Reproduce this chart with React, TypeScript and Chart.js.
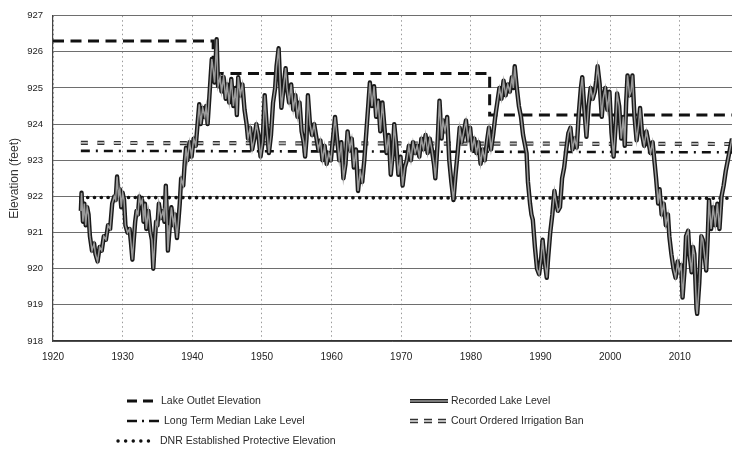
import { useEffect, useRef } from "react";
import { Chart, registerables } from "chart.js";

Chart.register(...registerables);

// ---------- axis ----------
const xMin = 1920;
const xMax = 2017.5;
const xStep = 10;
const yMin = 918;
const yMax = 927;
const yStep = 1;
const yTitle = "Elevation (feet)";

// ---------- reference lines ----------
const outletYears = [1920, 1943, 1943, 1982.7, 1982.7, 2017.5];
const outletLevels = [926.3, 926.3, 925.4, 925.4, 924.25, 924.25];

const banYears = [1924, 2017.5];
const banLevels = [923.48, 923.45];

const medianYears = [1924, 2017.5];
const medianLevels = [923.26, 923.22];

const dnrYears = [1924, 2017.5];
const dnrLevels = [921.97, 921.95];

// ---------- recorded lake level ----------
const recordedYears = [
  1924.0, 1924.1, 1924.3, 1924.5, 1924.7, 1924.9, 1925.1, 1925.3, 1925.6, 1925.9,
  1926.1, 1926.4, 1926.7, 1927.0, 1927.3, 1927.6, 1927.9, 1928.2, 1928.5, 1928.8,
  1929.0, 1929.2, 1929.4, 1929.6, 1929.8, 1930.0, 1930.2, 1930.4, 1930.7, 1931.0,
  1931.2, 1931.4, 1931.6, 1931.8, 1932.0, 1932.2, 1932.4, 1932.6, 1932.8, 1933.0,
  1933.2, 1933.4, 1933.7, 1934.0, 1934.2, 1934.4, 1934.6, 1934.8, 1935.0, 1935.2,
  1935.5, 1935.8, 1936.0, 1936.2, 1936.4, 1936.5, 1936.7, 1937.0, 1937.3, 1937.5,
  1937.8, 1938.0, 1938.2, 1938.4, 1938.7, 1938.9, 1939.1, 1939.3, 1939.6, 1939.9,
  1940.2, 1940.5, 1940.8, 1941.0, 1941.2, 1941.5, 1941.8, 1942.0, 1942.2, 1942.5,
  1942.8, 1943.0, 1943.2, 1943.5, 1943.7, 1944.0, 1944.2, 1944.5, 1944.8, 1945.0,
  1945.3, 1945.6, 1945.9, 1946.2, 1946.4, 1946.6, 1946.9, 1947.2, 1947.5, 1947.8,
  1948.0, 1948.3, 1948.6, 1948.9, 1949.2, 1949.5, 1949.8, 1950.1, 1950.4, 1950.7,
  1951.0, 1951.3, 1951.6, 1951.9, 1952.1, 1952.4, 1952.6, 1952.8, 1953.1, 1953.4,
  1953.6, 1953.9, 1954.2, 1954.5, 1954.8, 1955.1, 1955.4, 1955.7, 1956.0, 1956.2,
  1956.4, 1956.6, 1956.9, 1957.2, 1957.5, 1957.8, 1958.1, 1958.4, 1958.7, 1959.0,
  1959.3, 1959.6, 1959.9, 1960.2, 1960.5, 1960.8, 1961.1, 1961.4, 1961.7, 1962.0,
  1962.3, 1962.6, 1962.9, 1963.2, 1963.5, 1963.8, 1964.1, 1964.4, 1964.7, 1965.0,
  1965.3, 1965.5, 1965.8, 1966.1, 1966.4, 1966.7, 1967.0, 1967.3, 1967.6, 1967.9,
  1968.2, 1968.5, 1968.8, 1969.0, 1969.3, 1969.6, 1969.9, 1970.2, 1970.5, 1970.8,
  1971.1, 1971.4, 1971.7, 1972.0, 1972.3, 1972.6, 1972.9, 1973.2, 1973.5, 1973.8,
  1974.1, 1974.4, 1974.7, 1974.9, 1975.2, 1975.5, 1975.8, 1976.0, 1976.3, 1976.6,
  1976.9, 1977.2, 1977.5, 1977.8, 1978.1, 1978.4, 1978.7, 1979.0, 1979.3, 1979.6,
  1979.9, 1980.2, 1980.5, 1980.8, 1981.1, 1981.4, 1981.7, 1982.0, 1982.3, 1982.6,
  1982.9, 1983.2, 1983.5, 1983.8, 1984.1, 1984.4, 1984.7, 1985.0, 1985.3, 1985.6,
  1985.9, 1986.1, 1986.3, 1986.6, 1986.9, 1987.2, 1987.5, 1987.8, 1988.0, 1988.2,
  1988.5, 1988.7, 1988.9, 1989.2, 1989.5, 1989.8, 1990.1, 1990.3, 1990.6, 1990.9,
  1991.1, 1991.4, 1991.7, 1992.0, 1992.2, 1992.5, 1992.8, 1993.1, 1993.4, 1993.7,
  1994.0, 1994.3, 1994.6, 1994.9, 1995.2, 1995.5, 1995.8, 1996.0, 1996.3, 1996.6,
  1996.9, 1997.2, 1997.5, 1997.8, 1998.0, 1998.2, 1998.5, 1998.8, 1999.0, 1999.3,
  1999.6, 1999.9, 2000.2, 2000.5, 2000.8, 2001.0, 2001.3, 2001.6, 2001.9, 2002.1,
  2002.3, 2002.5, 2002.8, 2003.0, 2003.2, 2003.5, 2003.8, 2004.1, 2004.3, 2004.6,
  2004.9, 2005.2, 2005.5, 2005.8, 2006.1, 2006.4, 2006.6, 2006.9, 2007.1, 2007.4,
  2007.7, 2008.0, 2008.3, 2008.5, 2008.8, 2009.1, 2009.4, 2009.7, 2009.9, 2010.2,
  2010.4, 2010.7, 2010.9, 2011.2, 2011.4, 2011.7, 2011.9, 2012.1, 2012.4, 2012.5,
  2012.8, 2013.1, 2013.3, 2013.6, 2013.8, 2014.0, 2014.2, 2014.5, 2014.8, 2015.1,
  2015.4, 2015.7, 2016.0, 2016.3, 2016.6, 2016.9, 2017.2, 2017.5,
];
const recordedLevels = [
  921.6, 922.1, 921.3, 921.8, 921.2, 921.7, 921.5, 920.9, 920.5, 920.7,
  920.4, 920.2, 920.6, 920.5, 920.9, 920.8, 921.2, 921.1, 921.8, 922.0,
  921.9, 922.55, 922.0, 922.2, 921.7, 922.1, 921.9, 921.2, 921.0, 921.1,
  920.7, 920.25, 920.8, 921.3, 921.6, 921.5, 922.0, 921.8, 921.9, 921.3,
  921.8, 921.1, 921.6, 921.0, 920.8, 920.0, 920.7, 921.3, 921.2, 921.8,
  921.4, 921.6, 921.3, 922.3, 921.2, 920.5, 921.0, 921.7, 921.2, 921.5,
  920.85, 921.3, 921.8, 922.5, 922.3, 922.9, 923.35, 923.0, 923.5, 923.1,
  923.6, 923.4, 924.1, 924.55, 924.0, 924.45, 924.2, 924.5, 924.0, 924.9,
  925.8, 925.5, 925.15, 926.35, 925.05, 925.3, 924.9, 925.3, 924.7, 925.1,
  924.6, 925.25, 924.5, 925.0, 924.25, 925.3, 924.8, 925.1, 924.4, 924.0,
  923.6, 923.9, 923.3, 923.6, 924.0, 923.7, 923.1, 923.5, 924.8, 923.9,
  923.2, 923.7, 924.6, 925.0, 925.6, 926.1, 925.2, 924.45, 925.0, 925.55,
  925.0, 924.6, 925.1, 924.4, 924.8, 924.2, 924.6, 923.8, 923.5, 923.1,
  923.6, 924.8, 924.0, 923.7, 924.0, 923.65, 923.3, 923.55, 923.0, 923.4,
  922.9, 923.2, 923.0, 923.6, 924.2, 923.6, 923.0, 923.5, 922.5, 922.9,
  923.8, 923.3, 923.6, 922.8, 923.3, 922.15, 922.7, 922.4, 923.0, 923.8,
  924.6, 925.15, 924.5, 925.05, 924.2, 924.65, 923.8, 924.6, 923.9, 923.2,
  923.7, 922.6, 923.2, 924.0, 923.4, 922.6, 923.1, 922.3, 922.8, 923.0,
  923.4, 923.0, 923.5, 923.2, 923.4, 923.1, 923.6, 923.3, 923.7, 923.2,
  923.6, 923.3, 922.9, 922.5, 923.4, 924.65, 923.6, 924.1, 923.8, 924.2,
  923.0, 922.4, 921.9, 922.6, 923.2, 923.9, 923.5, 923.8, 924.1, 923.55,
  923.9, 923.3, 923.6, 923.2, 923.5, 922.9, 923.3, 923.0, 923.5, 923.9,
  923.3, 923.7, 924.2, 924.6, 925.0, 924.7, 925.2, 924.8, 925.1, 924.9,
  925.3, 925.0, 925.6, 925.0, 924.5, 924.2, 923.7, 923.4, 923.2, 922.4,
  921.8, 921.5, 921.35, 920.6, 920.0, 919.85, 920.3, 920.8, 920.2, 919.75,
  920.3, 921.0, 921.5, 922.15, 921.9, 921.6, 921.7, 922.5, 922.8, 923.3,
  923.75, 923.9, 923.3, 923.6, 923.35, 924.3, 925.0, 925.3, 924.4, 923.65,
  924.5, 925.0, 924.7, 924.9, 925.2, 925.6, 925.1, 924.2, 924.7, 925.0,
  924.4, 924.9, 923.75, 923.1, 924.0, 924.85, 924.5, 923.6, 924.2, 923.4,
  924.6, 925.35, 924.8, 924.9, 925.35, 924.2, 923.55, 924.0, 924.45, 923.7,
  923.4, 923.8, 923.5, 923.2, 923.5, 922.9, 922.5, 921.8, 922.2, 921.5,
  921.8, 921.2, 921.5, 920.9, 920.4, 920.0, 919.75, 920.2, 919.9, 920.1,
  919.2, 920.0, 920.9, 921.05, 920.4, 919.9, 920.6, 920.4, 918.9, 918.75,
  919.6, 920.9, 920.8, 920.3, 919.95, 920.8, 921.9, 921.1, 921.7, 921.2,
  921.8, 921.1, 922.0, 922.3, 922.7, 923.0, 923.3, 923.6,
];

// ---------- legend ----------
const legendLabels = [
  "Lake Outlet Elevation",
  "Recorded Lake Level",
  "Long Term Median Lake Level",
  "Court Ordered Irrigation Ban",
  "DNR Established Protective Elevation",
];

const FONT = '"Liberation Sans", Arial, "DejaVu Sans", sans-serif';

const toXY = (xs: number[], ys: number[]) => xs.map((x, i) => ({ x, y: ys[i] }));

type IconKind = "outlet" | "recorded" | "median" | "ban" | "dnr";
const legendLayout: { kind: IconKind; x0: number; x1: number; tx: number; y: number }[] = [
  { kind: "outlet", x0: 127, x1: 155, tx: 161, y: 401 },
  { kind: "recorded", x0: 410, x1: 448, tx: 451, y: 401 },
  { kind: "median", x0: 127, x1: 160, tx: 164, y: 421 },
  { kind: "ban", x0: 410, x1: 448, tx: 451, y: 421 },
  { kind: "dnr", x0: 118, x1: 156, tx: 160, y: 441 },
];

function strokeSeg(ctx: CanvasRenderingContext2D, x0: number, x1: number, y: number, color: string, width: number, dash: number[], cap: CanvasLineCap = "butt") {
  ctx.save();
  ctx.strokeStyle = color;
  ctx.lineWidth = width;
  ctx.setLineDash(dash);
  ctx.lineCap = cap;
  ctx.beginPath();
  ctx.moveTo(x0, y);
  ctx.lineTo(x1, y);
  ctx.stroke();
  ctx.restore();
}

const legendPlugin = {
  id: "customLegend",
  afterDraw(chart: any) {
    const ctx: CanvasRenderingContext2D = chart.ctx;
    ctx.save();
    legendLayout.forEach((it, i) => {
      const { kind, x0, x1, tx, y } = it;
      if (kind === "outlet") strokeSeg(ctx, x0, x1, y, "#111", 3, [10, 6]);
      if (kind === "recorded") {
        strokeSeg(ctx, x0, x1, y, "#222", 4, []);
        strokeSeg(ctx, x0, x1, y, "#999", 1.6, []);
      }
      if (kind === "median") strokeSeg(ctx, x0, x1, y, "#111", 2.5, [10, 5, 2, 5]);
      if (kind === "ban") {
        strokeSeg(ctx, x0, x1, y, "#333", 4.5, [8, 6]);
        strokeSeg(ctx, x0, x1, y, "#bbb", 2, [8, 6]);
      }
      if (kind === "dnr") strokeSeg(ctx, x0, x1, y, "#111", 3.4, [0.1, 7.5], "round");
      ctx.font = `10.5px ${FONT}`;
      ctx.fillStyle = "#2a2a2a";
      ctx.textBaseline = "middle";
      ctx.textAlign = "left";
      ctx.fillText(legendLabels[i], tx, y);
    });
    ctx.restore();
  },
};

export default function App() {
  const ref = useRef<HTMLCanvasElement | null>(null);

  useEffect(() => {
    if (!ref.current) return;
    const chart = new Chart(ref.current, {
      type: "line",
      data: {
        datasets: [
          {
            label: "Recorded Lake Level",
            data: toXY(recordedYears, recordedLevels),
            borderColor: "#9a9a9a",
            borderWidth: 1.5,
            pointRadius: 0,
            tension: 0,
          },
          {
            label: "Recorded Lake Level outline",
            data: toXY(recordedYears, recordedLevels),
            borderColor: "#1a1a1a",
            borderWidth: 4.4,
            pointRadius: 0,
            tension: 0,
            borderJoinStyle: "round",
          },
          {
            label: "Lake Outlet Elevation",
            data: toXY(outletYears, outletLevels),
            borderColor: "#111",
            borderWidth: 3,
            borderDash: [11, 6.5],
            pointRadius: 0,
          },
          {
            label: "Court Ordered Irrigation Ban inner",
            data: toXY(banYears, banLevels),
            borderColor: "#bbb",
            borderWidth: 1.8,
            borderDash: [7, 9.5],
            pointRadius: 0,
          },
          {
            label: "Court Ordered Irrigation Ban",
            data: toXY(banYears, banLevels),
            borderColor: "#333",
            borderWidth: 4.2,
            borderDash: [7, 9.5],
            pointRadius: 0,
          },
          {
            label: "Long Term Median Lake Level",
            data: toXY(medianYears, medianLevels),
            borderColor: "#111",
            borderWidth: 2.6,
            borderDash: [9, 6, 2, 6],
            pointRadius: 0,
          },
          {
            label: "DNR Established Protective Elevation",
            data: toXY(dnrYears, dnrLevels),
            borderColor: "#111",
            borderWidth: 3.6,
            borderDash: [0.1, 6.7],
            borderCapStyle: "round",
            pointRadius: 0,
          },
        ],
      },
      options: {
        animation: false,
        responsive: false,
        events: [],
        layout: { padding: { left: 0, right: 0, top: 15, bottom: 86 } },
        plugins: {
          legend: { display: false },
          tooltip: { enabled: false },
          title: { display: false },
        },
        scales: {
          x: {
            type: "linear",
            min: xMin,
            max: xMax,
            afterFit: (s: any) => {
              s.height = 30;
            },
            ticks: {
              stepSize: xStep,
              includeBounds: false,
              autoSkip: false,
              maxRotation: 0,
              padding: 10,
              color: "#222",
              font: { family: FONT, size: 10 },
              callback: (v: any) => String(v),
            },
            grid: {
              color: "#9a9a9a",
              lineWidth: 1,
              drawTicks: false,
            },
            border: { display: true, color: "#333", width: 1.5, dash: [1.5, 3] },
          },
          y: {
            type: "linear",
            min: yMin,
            max: yMax,
            afterFit: (s: any) => {
              s.width = 53;
            },
            ticks: {
              stepSize: yStep,
              padding: 10,
              color: "#222",
              font: { family: FONT, size: 9.5 },
            },
            grid: {
              color: "#6e6e6e",
              lineWidth: 1,
              drawTicks: false,
            },
            border: { display: true, color: "#444", width: 1.2 },
            title: {
              display: true,
              text: yTitle,
              color: "#333",
              font: { family: FONT, size: 12 },
              padding: { top: 7, bottom: 0 },
            },
          },
        },
      },
      plugins: [legendPlugin],
    });
    return () => chart.destroy();
  }, []);

  return (
    <div style={{ position: "absolute", left: 0, top: 0, width: 732, height: 457, background: "#fff" }}>
      <canvas ref={ref} width={732} height={457} style={{ display: "block" }} />
    </div>
  );
}
